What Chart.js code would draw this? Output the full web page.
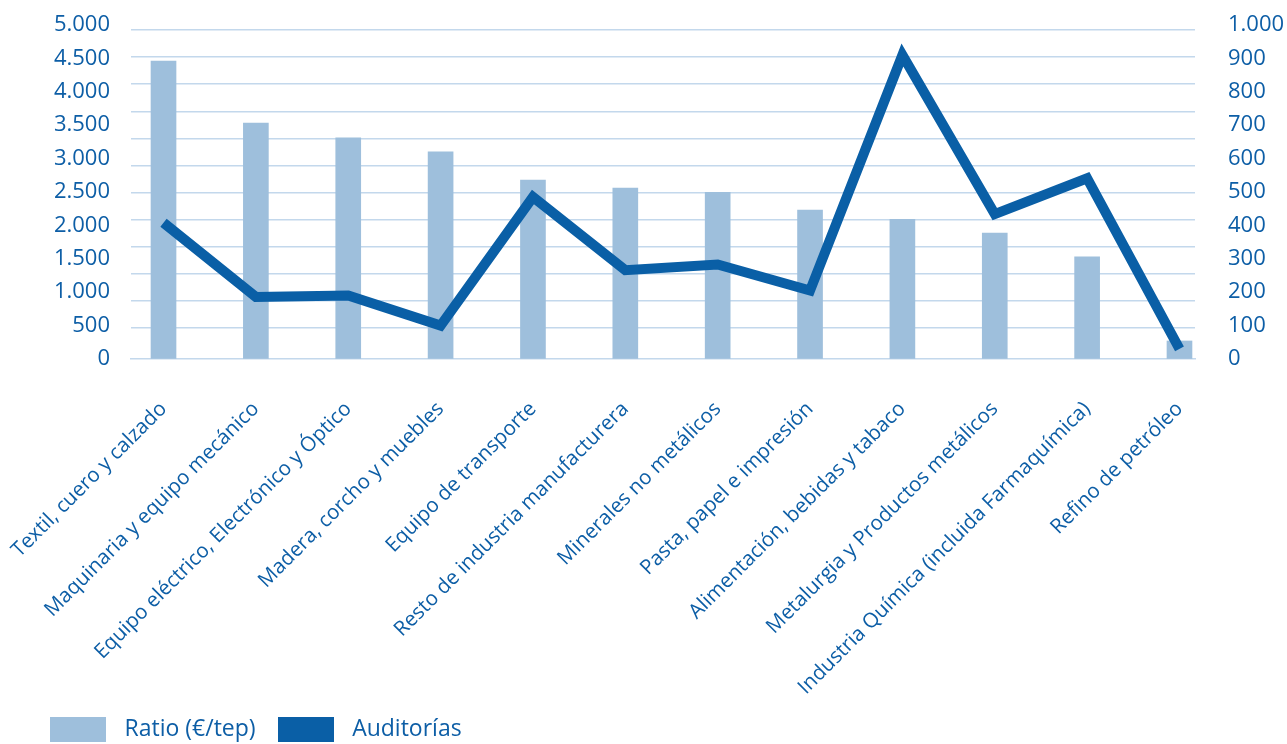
<!DOCTYPE html>
<html>
<head>
<meta charset="utf-8">
<script src="https://cdn.jsdelivr.net/npm/chart.js@4.4.1/dist/chart.umd.min.js"></script>
<style>
  html, body { margin: 0; padding: 0; background: #ffffff; }
  #wrap { width: 1287px; height: 744px; position: relative; }
</style>
</head>
<body>
<div id="wrap"><canvas id="c" width="1287" height="744"></canvas></div>
<script>
const categories = [
  'Textil, cuero y calzado',
  'Maquinaria y equipo mecánico',
  'Equipo eléctrico, Electrónico y Óptico',
  'Madera, corcho y muebles',
  'Equipo de transporte',
  'Resto de industria manufacturera',
  'Minerales no metálicos',
  'Pasta, papel e impresión',
  'Alimentación, bebidas y tabaco',
  'Metalurgia y Productos metálicos',
  'Industria Química (incluida Farmaquímica)',
  'Refino de petróleo'
];
const ratio = [4460, 3530, 3310, 3100, 2680, 2560, 2495, 2230, 2090, 1885, 1530, 270];
const auditorias = [408, 186, 190, 100, 485, 266, 283, 205, 910, 434, 541, 30];

const leftTickValues = [0, 500, 1000, 1500, 2000, 2500, 3000, 3500, 4000, 4500, 5000];
const leftTickLabels = ['0', '500', '1.000', '1.500', '2.000', '2.500', '3.000', '3.500', '4.000', '4.500', '5.000'];
const rightTickValues = [0, 100, 200, 300, 400, 500, 600, 700, 800, 900, 1000];
const rightTickLabels = ['0', '100', '200', '300', '400', '500', '600', '700', '800', '900', '1.000'];
const gridLineValues = [0, 1, 2, 3, 4, 5, 6, 7, 8, 9, 10, 11];

const TEXT = '#0d5ea6';
const BAR = '#9ebfdc';
const LINE = '#0a5fa6';
const GRID = '#c3d8ec';
const FONT = "'Open Sans', sans-serif";

const barData = ratio.map((v, i) => ({ x: i, y: v }));
const lineData = auditorias.map((v, i) => ({ x: i, y: v }));

function swatch(color) {
  const cv = document.createElement('canvas');
  cv.width = 56; cv.height = 25;
  const cx = cv.getContext('2d');
  cx.fillStyle = color;
  cx.fillRect(0, 0, 56, 25);
  return cv;
}
const swatches = [swatch(BAR), swatch(LINE)];

new Chart(document.getElementById('c'), {
  data: {
    datasets: [
      {
        type: 'bar',
        label: 'Ratio (€/tep)',
        data: barData,
        backgroundColor: BAR,
        borderWidth: 0,
        barThickness: 25,
        xAxisID: 'x',
        yAxisID: 'y',
        order: 1
      },
      {
        type: 'line',
        label: 'Auditorías',
        data: lineData,
        borderColor: LINE,
        backgroundColor: LINE,
        borderWidth: 10,
        pointRadius: 0,
        tension: 0,
        borderJoinStyle: 'miter',
        borderCapStyle: 'butt',
        fill: false,
        xAxisID: 'x',
        yAxisID: 'y2',
        order: 0
      }
    ]
  },
  options: {
    responsive: false,
    animation: false,
    layout: { padding: { left: 28, right: 0, top: 25, bottom: -6.5 } },
    plugins: {
      tooltip: { enabled: false },
      legend: {
        position: 'bottom',
        align: 'start',
        labels: {
          usePointStyle: true,
          pointStyleWidth: 70,
          boxHeight: 25,
          padding: 15,
          color: TEXT,
          font: { family: FONT, size: 23 },
          sort: (a, b) => a.datasetIndex - b.datasetIndex,
          generateLabels: (chart) => {
            const items = Chart.defaults.plugins.legend.labels.generateLabels(chart);
            items.forEach(it => {
              it.lineWidth = 0;
              it.strokeStyle = 'rgba(0,0,0,0)';
              it.pointStyle = swatches[it.datasetIndex];
              it.rotation = 0;
            });
            return items;
          }
        }
      }
    },
    scales: {
      x: {
        type: 'linear',
        position: 'bottom',
        offset: false,
        min: -0.352,
        max: 11.168,
        afterBuildTicks: (s) => { s.ticks = categories.map((_, i) => ({ value: i })); },
        afterFit: (s) => { s.height = 343.5; s.paddingLeft = 0; s.paddingRight = 0; },
        ticks: {
          autoSkip: false,
          minRotation: 45,
          maxRotation: 45,
          padding: 30,
          color: TEXT,
          font: { family: FONT, size: 20.5 },
          callback: (v) => categories[v]
        },
        grid: { display: false },
        border: { display: true, color: GRID, width: 1.5 }
      },
      y: {
        type: 'linear',
        position: 'left',
        min: 0,
        max: 5000,
        afterBuildTicks: (s) => { s.ticks = leftTickValues.map(v => ({ value: v })); },
        afterFit: (s) => { s.width = 103; },
        ticks: {
          padding: 10,
          color: TEXT,
          font: { family: FONT, size: 22 },
          callback: (v, i) => leftTickLabels[i]
        },
        grid: { display: true, drawOnChartArea: false, drawTicks: true, tickLength: 11, color: 'rgba(0,0,0,0)' },
        border: { display: false }
      },
      g: {
        type: 'linear',
        position: 'left',
        min: -1.144,
        max: 11.185,
        afterBuildTicks: (s) => { s.ticks = gridLineValues.map(v => ({ value: v })); },
        afterFit: (s) => { s.width = 0; },
        ticks: { display: false },
        grid: { display: true, color: GRID, lineWidth: 1.5, drawTicks: false },
        border: { display: false }
      },
      y2: {
        type: 'linear',
        position: 'right',
        min: 0,
        max: 1000,
        afterBuildTicks: (s) => { s.ticks = rightTickValues.map(v => ({ value: v })); },
        afterFit: (s) => { s.width = 92; },
        ticks: {
          padding: 10,
          color: TEXT,
          font: { family: FONT, size: 22 },
          callback: (v, i) => rightTickLabels[i]
        },
        grid: { display: true, drawOnChartArea: false, drawTicks: true, tickLength: 23, color: 'rgba(0,0,0,0)' },
        border: { display: false }
      }
    }
  }
});
</script>
</body>
</html>
